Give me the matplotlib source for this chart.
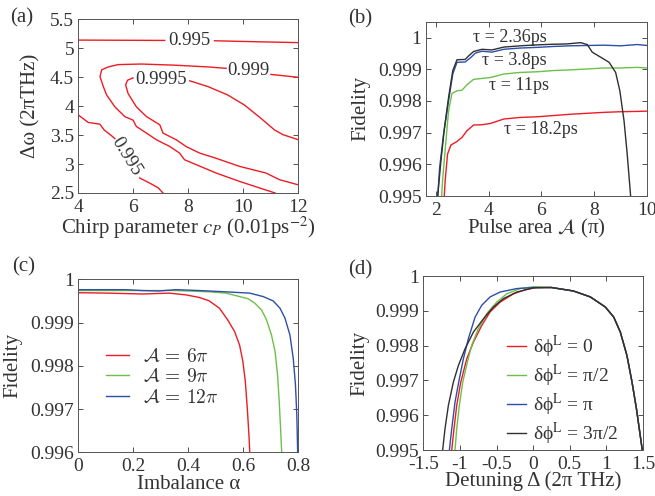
import matplotlib
matplotlib.use("Agg")
import matplotlib.pyplot as plt
from matplotlib.ticker import FuncFormatter
from matplotlib.font_manager import FontProperties

plt.rcParams['font.family'] = ['Liberation Serif', 'DejaVu Serif']
plt.rcParams['mathtext.fontset'] = 'stix'
plt.rcParams['axes.unicode_minus'] = False
plt.rcParams['text.color'] = '#333333'
plt.rcParams['axes.labelcolor'] = '#333333'
plt.rcParams['xtick.color'] = '#333333'
plt.rcParams['ytick.color'] = '#333333'

RED = '#ec1c24'
GREEN = '#6cc04a'
BLUE = '#2e4fa8'
BLACK = '#303030'

# ---- (a) contour lines, traced as (x, y) segments ----
c995_top_a = [[4.0, 7.14], [5.144, 5.138]]
c995_top_b = [[8.95, 10.5, 12.0], [5.132, 5.115, 5.10]]
c999_a = [[11.15, 9.86, 9.01, 7.86, 7.68, 7.32, 6.84, 6.48, 6.11, 5.99, 5.69, 5.33,
           5.03, 4.91, 4.79, 4.85, 5.09, 5.45, 6.29, 7.50, 8.71, 9.37],
          [2.5, 2.70, 2.845, 3.075, 3.19, 3.305, 3.42, 3.535, 3.65, 3.76, 3.82, 3.99,
           4.195, 4.34, 4.51, 4.63, 4.68, 4.72, 4.73, 4.71, 4.68, 4.655]]
c999_b = [[11.0, 12.0], [4.55, 4.50]]
c9995_a = [[12.0, 11.31, 10.82, 9.86, 9.01, 8.41, 7.93, 7.56, 7.08, 6.96, 6.48, 6.11,
            5.81, 5.72, 5.79, 5.99],
           [2.64, 2.73, 2.845, 2.96, 3.10, 3.19, 3.30, 3.42, 3.535, 3.68, 3.82, 3.99,
            4.22, 4.37, 4.45, 4.49]]
c9995_b = [[8.05, 8.71, 9.43, 10.04, 10.64, 11.13, 11.43, 12.0],
           [4.44, 4.34, 4.195, 4.02, 3.79, 3.59, 3.51, 3.42]]
c995_low_a = [[4.0, 4.36, 4.785, 4.94, 5.21, 5.33], [3.85, 3.72, 3.69, 3.59, 3.49, 3.44]]
c995_low_b = [[6.23, 6.60, 6.90, 7.08], [2.76, 2.67, 2.59, 2.5]]
contour_segments = [c995_top_a, c995_top_b, c999_a, c999_b, c9995_a, c9995_b,
                    c995_low_a, c995_low_b]
contour_labels = ['0.995', '0.999', '0.9995', '0.995']
contour_label_xy = [(8.05, 5.132), (10.18, 4.61), (7.02, 4.454), (5.75, 3.13)]
contour_label_rot = [0, 0, 0, -58]

# ---- (b) fidelity vs pulse area ----
b_x_236 = [2.0, 2.18, 2.30, 2.47, 2.63, 2.79, 3.10, 3.23, 3.42, 3.74, 4.12, 4.57, 5.20,
           5.83, 6.47, 6.98, 7.49, 7.74, 7.93, 8.25, 8.57, 8.82, 8.98, 9.14, 9.26, 9.39, 9.44]
b_y_236 = [0.9945, 0.99611, 0.99706, 0.99811, 0.99896, 0.99930, 0.99931, 0.99942, 0.99956,
           0.99963, 0.99961, 0.99970, 0.99974, 0.99977, 0.99979, 0.99980, 0.99984, 0.99978,
           0.99954, 0.99938, 0.99922, 0.99890, 0.99832, 0.99737, 0.99632, 0.99500, 0.99463]
b_x_38 = [2.03, 2.13, 2.28, 2.47, 2.63, 2.79, 3.10, 3.30, 3.49, 3.74, 4.12, 4.57, 5.20,
          5.83, 6.47, 7.10, 7.74, 8.37, 9.01, 9.64, 10.03]
b_y_38 = [0.99463, 0.99590, 0.99695, 0.99801, 0.99885, 0.99922, 0.99923, 0.99936, 0.99951,
          0.99957, 0.99954, 0.99963, 0.99967, 0.99969, 0.99972, 0.99974, 0.99975, 0.99976,
          0.99974, 0.99978, 0.99975]
b_x_11 = [2.18, 2.25, 2.36, 2.47, 2.60, 2.79, 2.98, 3.17, 3.42, 3.74, 4.06, 4.57, 5.20,
          5.83, 6.47, 7.10, 7.74, 8.37, 9.01, 9.64, 10.03]
b_y_11 = [0.99463, 0.99558, 0.99664, 0.99769, 0.99824, 0.99832, 0.99834, 0.99851, 0.99868,
          0.99871, 0.99874, 0.99885, 0.99890, 0.99892, 0.99896, 0.99898, 0.99901, 0.99904,
          0.99904, 0.99906, 0.99904]
b_x_182 = [2.28, 2.34, 2.43, 2.56, 2.79, 2.98, 3.17, 3.42, 3.74, 4.06, 4.57, 5.20, 5.83,
           6.47, 7.10, 7.74, 8.37, 9.01, 9.64, 10.03]
b_y_182 = [0.99463, 0.99547, 0.99632, 0.99661, 0.99672, 0.99685, 0.99706, 0.99724, 0.99725,
           0.99729, 0.99743, 0.99748, 0.99750, 0.99754, 0.99758, 0.99761, 0.99764, 0.99766,
           0.99767, 0.99768]
b_labels = ['τ = 2.36ps', 'τ = 3.8ps', 'τ = 11ps', 'τ = 18.2ps']
b_label_xy = [(4.81, 1.0000), (4.96, 0.99927), (5.16, 0.99848), (5.96, 0.99711)]

# ---- (c) fidelity vs imbalance ----
c_x_6 = [0.0, 0.11, 0.232, 0.33, 0.391, 0.44, 0.476, 0.513, 0.543, 0.568, 0.586, 0.598,
         0.607, 0.614, 0.62, 0.623]
c_y_6 = [0.99969, 0.99968, 0.99966, 0.99968, 0.99964, 0.99958, 0.99950, 0.99933, 0.99906,
         0.99879, 0.99848, 0.99810, 0.99763, 0.99702, 0.99640, 0.9960]
c_x_9 = [0.0, 0.232, 0.354, 0.476, 0.537, 0.574, 0.617, 0.641, 0.666, 0.684, 0.702, 0.715,
         0.724, 0.730, 0.735, 0.739]
c_y_9 = [0.99974, 0.99974, 0.99974, 0.99971, 0.99968, 0.99962, 0.99955, 0.99945, 0.99929,
         0.99906, 0.99871, 0.99833, 0.99779, 0.99717, 0.99655, 0.9960]
c_x_12 = [0.0, 0.171, 0.232, 0.293, 0.354, 0.44, 0.537, 0.623, 0.672, 0.708, 0.733, 0.751,
          0.769, 0.781, 0.789, 0.794, 0.797]
c_y_12 = [0.99976, 0.99976, 0.99974, 0.99973, 0.99976, 0.99974, 0.99971, 0.99968, 0.99960,
          0.99950, 0.99933, 0.99910, 0.99871, 0.99817, 0.99756, 0.99686, 0.9960]
c_labels = [r'$\mathcal{A}\,=\,6\pi$', r'$\mathcal{A}\,=\,9\pi$', r'$\mathcal{A}\,=\,12\pi$']

# ---- (d) fidelity vs detuning ----
d_x_right = [0.25, 0.55, 0.78, 0.985, 1.10, 1.19, 1.28, 1.35, 1.41, 1.455, 1.49, 1.51]
d_y_right = [0.99967, 0.99957, 0.99940, 0.99911, 0.99882, 0.99839, 0.99772, 0.99695,
             0.99619, 0.99552, 0.99500, 0.99480]
d_x_0 = [-1.112, -1.081, -1.044, -0.989, -0.907, -0.816, -0.702, -0.588, -0.451, -0.269,
         -0.087, 0.05]
d_y_0 = [0.99500, 0.99561, 0.99628, 0.99695, 0.99762, 0.99810, 0.99858, 0.99897, 0.99925,
         0.99949, 0.99962, 0.99967]
d_x_half = [-1.067, -1.044, -1.008, -0.962, -0.898, -0.839, -0.748, -0.634, -0.497, -0.360,
            -0.178, 0.005]
d_y_half = [0.99500, 0.99561, 0.99628, 0.99695, 0.99753, 0.99801, 0.99849, 0.99892, 0.99925,
            0.99949, 0.99964, 0.99969]
d_x_pi = [-1.144, -1.112, -1.067, -1.008, -0.953, -0.885, -0.793, -0.702, -0.588, -0.451,
          -0.223, 0.005]
d_y_pi = [0.99500, 0.99561, 0.99638, 0.99705, 0.99762, 0.99820, 0.99882, 0.99916, 0.99940,
          0.99954, 0.99964, 0.99967]
d_x_3half = [-1.236, -1.204, -1.158, -1.090, -1.021, -0.930, -0.816, -0.679, -0.543, -0.406,
             -0.223, 0.005]
d_y_3half = [0.99500, 0.99561, 0.99628, 0.99695, 0.99743, 0.99791, 0.99839, 0.99877, 0.99911,
             0.99935, 0.99954, 0.99966]
d_labels = ['δϕ$^{\\rm L}$ = 0', 'δϕ$^{\\rm L}$ = π/2', 'δϕ$^{\\rm L}$ = π', 'δϕ$^{\\rm L}$ = 3π/2']

TICK_FS = 14
LABEL_FS = 15
LW = 1.0

fmt = FuncFormatter(lambda v, p: '%g' % round(v, 6))


def style(ax, ylab_x):
    ax.tick_params(direction='in', top=True, right=True, length=3.5, width=0.6,
                   labelsize=TICK_FS, pad=3)
    ax.tick_params(axis='x', pad=4)
    for s in ax.spines.values():
        s.set_color('#555555')
        s.set_linewidth(0.7)
    ax.xaxis.set_major_formatter(fmt)
    ax.yaxis.set_major_formatter(fmt)
    ax.yaxis.label.set_va('center')
    ax.yaxis.set_label_coords(ylab_x, 0.5)


fig = plt.figure(figsize=(6.55, 4.96), dpi=100)

# (a)
ax = fig.add_axes([0.1195, 0.6109, 0.3362, 0.3498])
for seg in contour_segments:
    ax.plot(seg[0], seg[1], color=RED, lw=LW)
for txt, (x, y), rot in zip(contour_labels, contour_label_xy, contour_label_rot):
    ax.text(x, y, txt, ha='center', va='center', rotation=rot, fontsize=13.5)
ax.set_xlim(4, 12)
ax.set_ylim(2.5, 5.5)
ax.set_xticks([4, 6, 8, 10, 12])
ax.set_yticks([2.5, 3, 3.5, 4, 4.5, 5, 5.5])
ax.set_xlabel('Chirp parameter $c_P$ (0.01ps$^{-2}$)', fontsize=LABEL_FS, labelpad=-1)
ax.set_ylabel('Δω (2πTHz)', fontsize=LABEL_FS)
style(ax, -0.215)
fig.text(0.033, 0.965, '(a)', fontsize=15, ha='center', va='center')

# (b)
ax = fig.add_axes([0.6499, 0.6048, 0.3374, 0.3514])
ax.plot(b_x_182, b_y_182, color=RED, lw=LW)
ax.plot(b_x_11, b_y_11, color=GREEN, lw=LW)
ax.plot(b_x_38, b_y_38, color=BLUE, lw=LW)
ax.plot(b_x_236, b_y_236, color=BLACK, lw=LW)
for txt, (x, y) in zip(b_labels, b_label_xy):
    ax.text(x, y, txt, ha='center', va='center', fontsize=13)
ax.set_xlim(1.6, 10)
ax.set_ylim(0.995, 1.0005)
ax.set_xticks([2, 4, 6, 8, 10])
ax.set_yticks([0.995, 0.996, 0.997, 0.998, 0.999, 1.0])
ax.set_xlabel(r'Pulse area $\mathcal{A}$ (π)', fontsize=LABEL_FS, labelpad=-1)
ax.set_ylabel('Fidelity', fontsize=LABEL_FS)
style(ax, -0.293)
fig.text(0.550, 0.962, '(b)', fontsize=15, ha='center', va='center')

# (c)
ax = fig.add_axes([0.1195, 0.0881, 0.3362, 0.3488])
ax.plot(c_x_6, c_y_6, color=RED, lw=LW, label=c_labels[0])
ax.plot(c_x_9, c_y_9, color=GREEN, lw=LW, label=c_labels[1])
ax.plot(c_x_12, c_y_12, color=BLUE, lw=LW, label=c_labels[2])
ax.set_xlim(0, 0.8)
ax.set_ylim(0.996, 1.0)
ax.set_xticks([0, 0.2, 0.4, 0.6, 0.8])
ax.set_yticks([0.996, 0.997, 0.998, 0.999, 1.0])
ax.set_xlabel('Imbalance α', fontsize=LABEL_FS, labelpad=0)
ax.set_ylabel('Fidelity', fontsize=LABEL_FS)
style(ax, -0.295)
ax.legend(loc='center left', bbox_to_anchor=(0.125, 0.434), frameon=False,
          prop=FontProperties(size=14, math_fontfamily='cm'), handlelength=1.2,
          handletextpad=0.7, labelspacing=0.12, borderpad=0, borderaxespad=0)
fig.text(0.036, 0.462, '(c)', fontsize=15, ha='center', va='center')

# (d)
ax = fig.add_axes([0.6463, 0.0927, 0.3354, 0.3508])
ax.plot(d_x_0 + d_x_right, d_y_0 + d_y_right, color=RED, lw=LW, label=d_labels[0])
ax.plot(d_x_half + d_x_right, d_y_half + d_y_right, color=GREEN, lw=LW, label=d_labels[1])
ax.plot(d_x_pi + d_x_right, d_y_pi + d_y_right, color=BLUE, lw=LW, label=d_labels[2])
ax.plot(d_x_3half + d_x_right, d_y_3half + d_y_right, color=BLACK, lw=LW, label=d_labels[3])
ax.set_xlim(-1.5, 1.5)
ax.set_ylim(0.995, 1.0)
ax.set_xticks([-1.5, -1, -0.5, 0, 0.5, 1, 1.5])
ax.set_yticks([0.995, 0.996, 0.997, 0.998, 0.999, 1.0])
ax.set_xlabel('Detuning Δ (2π THz)', fontsize=LABEL_FS, labelpad=-1)
ax.set_ylabel('Fidelity', fontsize=LABEL_FS)
style(ax, -0.288)
ax.legend(loc='center left', bbox_to_anchor=(0.38, 0.345), frameon=False, fontsize=14,
          handlelength=1.0, handletextpad=0.35, labelspacing=0.15, borderpad=0,
          borderaxespad=0)
fig.text(0.550, 0.455, '(d)', fontsize=15, ha='center', va='center')

fig.savefig('out.png', dpi=100)
